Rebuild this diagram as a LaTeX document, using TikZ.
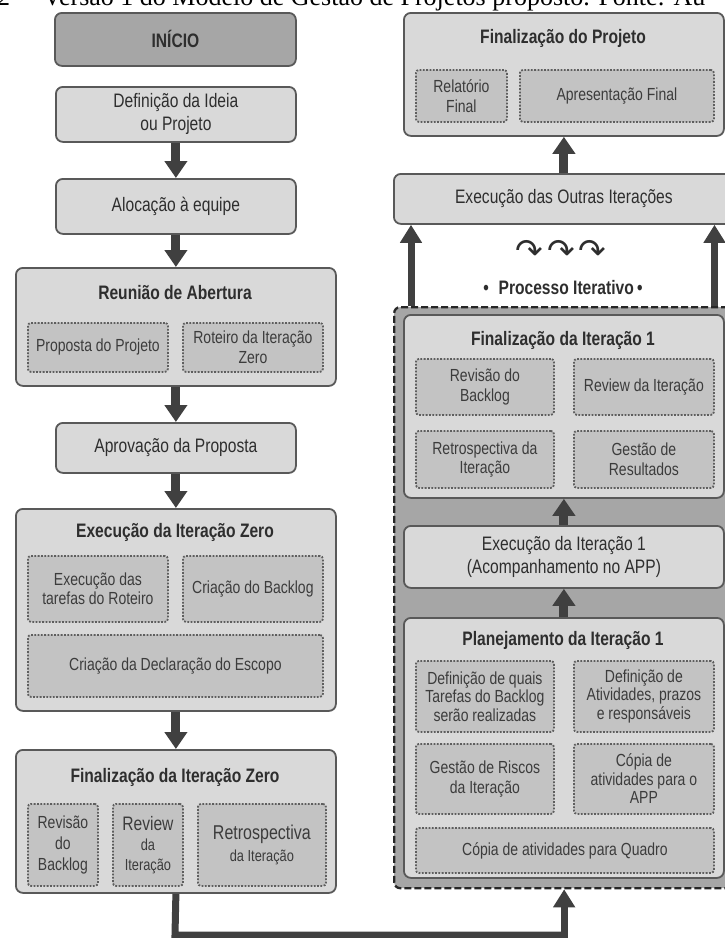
\documentclass[tikz,border=0pt]{standalone}
\usepackage{fontspec}
\setmainfont{Liberation Sans}[FakeStretch=0.8]
\newfontfamily\capfont{Liberation Serif}
\newfontfamily\symfont{DejaVu Sans}
\usetikzlibrary{arrows.meta}
\definecolor{boxfill}{HTML}{D9D9D9}
\definecolor{subfill}{HTML}{C3C3C3}
\definecolor{darkfill}{HTML}{A6A6A6}
\definecolor{edgec}{HTML}{595959}
\definecolor{dotc}{HTML}{5E5E5E}
\definecolor{arrowc}{HTML}{404040}
\definecolor{txt}{HTML}{2E2E2E}
\definecolor{subtxt}{HTML}{3C3C3C}
\tikzset{
  mainbox/.style={draw=edgec, fill=boxfill, line width=1.8pt, rounded corners=7pt, anchor=north west,
    inner sep=0pt, align=center, text=txt, font=\fontsize{19.5}{23}\selectfont},
  startbox/.style={mainbox, fill=darkfill, font=\bfseries\fontsize{19.5}{23}\selectfont},
  subbox/.style={draw=dotc, fill=subfill, line width=1.8pt, dash pattern=on 1.8pt off 1.5pt,
    rounded corners=3pt, anchor=north west, inner sep=0pt, align=center, text=subtxt,
    font=\fontsize{17.5}{19.5}\selectfont},
  boxtitle/.style={text=txt, inner sep=0pt, font=\bfseries\fontsize{19.5}{23}\selectfont},
  container/.style={draw=black!85, fill=darkfill, line width=2.3pt, dash pattern=on 7pt off 3pt,
    rounded corners=6pt, anchor=north west, inner sep=0pt},
  flow/.style={draw=arrowc, line width=9pt, -{Triangle[width=22pt,length=17pt]}},
  flowthin/.style={draw=arrowc, line width=7pt, -{Triangle[width=21pt,length=18pt]}},
  conn/.style={draw=arrowc, line width=7pt, line join=miter},
  captext/.style={anchor=base west, inner sep=0pt, text=black, font=\capfont\fontsize{26}{30}\selectfont}
}
\begin{document}
\begin{tikzpicture}[x=1pt,y=-1pt]
\useasboundingbox (0,0) rectangle (725,938);
\clip (0,0) rectangle (725,938);

% caption (cut off at the top, as in the reference)
\node[captext] (capn) at (-3,5) {2};
\node[captext] (capt) at (43,5) {Versão 1 do Modelo de Gestão de Projetos proposto. Fonte: Au};

% ---------------- left column ----------------
\node[startbox, minimum width=241pt, minimum height=53pt] (ini) at (54,12) {INÍCIO};
\node[mainbox, minimum width=240pt, minimum height=55pt] (def) at (55,86) {Definição da Ideia\\ou Projeto};
\node[mainbox, minimum width=240pt, minimum height=55pt] (alo) at (55,178) {Alocação à equipe};

\node[mainbox, minimum width=320pt, minimum height=118pt] (reu) at (15,267) {};
\node[boxtitle] (reut) at (175,293) {Reunião de Abertura};
\node[subbox, minimum width=140pt, minimum height=49pt] (reu1) at (27,322) {Proposta do Projeto};
\node[subbox, minimum width=140pt, minimum height=49pt] (reu2) at (182,322) {Roteiro da Iteração\\Zero};

\node[mainbox, minimum width=240pt, minimum height=50pt] (apr) at (55,422) {Aprovação da Proposta};

\node[mainbox, minimum width=320pt, minimum height=202pt] (exz) at (15,508) {};
\node[boxtitle] (exzt) at (175,532) {Execução da Iteração Zero};
\node[subbox, minimum width=140pt, minimum height=66pt] (exz1) at (27,555) {Execução das\\tarefas do Roteiro};
\node[subbox, minimum width=140pt, minimum height=66pt] (exz2) at (182,555) {Criação do Backlog};
\node[subbox, minimum width=295pt, minimum height=62pt] (exz3) at (27,634) {Criação da Declaração do Escopo};

\node[mainbox, minimum width=320pt, minimum height=143pt] (fiz) at (15,749) {};
\node[boxtitle] (fizt) at (175,777) {Finalização da Iteração Zero};
\node[subbox, minimum width=70pt, minimum height=82pt, font=\fontsize{17.5}{21}\selectfont] (fiz1) at (27,803) {Revisão\\do\\Backlog};
\node[subbox, minimum width=70pt, minimum height=82pt, font=\fontsize{16}{20}\selectfont] (fiz2) at (112,803) {{\fontsize{19.5}{20}\selectfont Review}\\da\\Iteração};
\node[subbox, minimum width=128pt, minimum height=82pt, font=\fontsize{16}{22}\selectfont] (fiz3) at (197,803) {{\fontsize{20}{22}\selectfont Retrospectiva}\\da Iteração};

% ---------------- right column ----------------
\node[mainbox, minimum width=320pt, minimum height=123pt] (fpj) at (403,12) {};
\node[boxtitle] (fpjt) at (563,38) {Finalização do Projeto};
\node[subbox, minimum width=91pt, minimum height=52pt] (fpj1) at (415,69) {Relatório\\Final};
\node[subbox, minimum width=194pt, minimum height=52pt] (fpj2) at (519,69) {Apresentação Final};

\node[mainbox, minimum width=340pt, minimum height=50pt] (exo) at (393,173) {Execução das Outras Iterações};

\node[inner sep=0pt, text=txt, font=\symfont\fontsize{33}{36}\selectfont] (sym) at (561,251) {↷\hspace{4pt}↷\hspace{4pt}↷};
\node[boxtitle] (proc) at (563,288) {•\enspace Processo Iterativo\,•};

\node[container, minimum width=340pt, minimum height=581pt] (cont) at (393,306) {};

\node[mainbox, minimum width=320pt, minimum height=183pt] (fi1) at (403,314) {};
\node[boxtitle] (fi1t) at (563,340) {Finalização da Iteração 1};
\node[subbox, minimum width=138pt, minimum height=56pt] (fi1a) at (415,358) {Revisão do\\Backlog};
\node[subbox, minimum width=140pt, minimum height=56pt] (fi1b) at (573,358) {Review da Iteração};
\node[subbox, minimum width=138pt, minimum height=57pt] (fi1c) at (415,430) {Retrospectiva da\\Iteração};
\node[subbox, minimum width=140pt, minimum height=57pt] (fi1d) at (573,430) {Gestão de\\Resultados};

\node[mainbox, minimum width=320pt, minimum height=62pt] (ex1) at (403,525) {Execução da Iteração 1\\(Acompanhamento no APP)};

\node[mainbox, minimum width=320pt, minimum height=260pt] (pl1) at (403,617) {};
\node[boxtitle] (pl1t) at (563,640) {Planejamento da Iteração 1};
\node[subbox, minimum width=138pt, minimum height=71pt, font=\fontsize{17.5}{18.5}\selectfont] (pl1a) at (415,660) {Definição de quais\\Tarefas do Backlog\\serão realizadas};
\node[subbox, minimum width=140pt, minimum height=71pt, font=\fontsize{17.5}{18.5}\selectfont] (pl1b) at (573,660) {Definição de\\Atividades, prazos\\e responsáveis};
\node[subbox, minimum width=138pt, minimum height=70pt] (pl1c) at (415,743) {Gestão de Riscos\\da Iteração};
\node[subbox, minimum width=140pt, minimum height=70pt, font=\fontsize{17.5}{18.5}\selectfont] (pl1d) at (573,743) {Cópia de\\atividades para o\\APP};
\node[subbox, minimum width=298pt, minimum height=45pt] (pl1e) at (415,827) {Cópia de atividades para Quadro};

% ---------------- connectors ----------------
\draw[flow] (def.south) -- (alo.north);
\draw[flow] (alo.south) -- (reu.north);
\draw[flow] (reu.south) -- (apr.north);
\draw[flow] (apr.south) -- (exz.north);
\draw[flow] (exz.south) -- (fiz.north);

\draw[flow] (pl1.north) -- (ex1.south);
\draw[flow] (ex1.north) -- (fi1.south);
\draw[flow] (exo.north) -- (fpj.south);

\coordinate (lup) at (411,306);
\coordinate (rup) at (714.5,306);
\draw[flowthin] (lup) -- (lup |- exo.south);
\draw[flowthin] (rup) -- (rup |- exo.south);

\coordinate (bend) at (175,935);
\draw[conn] (fiz.south) -- (bend) -- (bend -| cont.south);
\draw[flowthin] ([yshift=-3.5pt]bend -| cont.south) -- (cont.south);
\end{tikzpicture}
\end{document}
